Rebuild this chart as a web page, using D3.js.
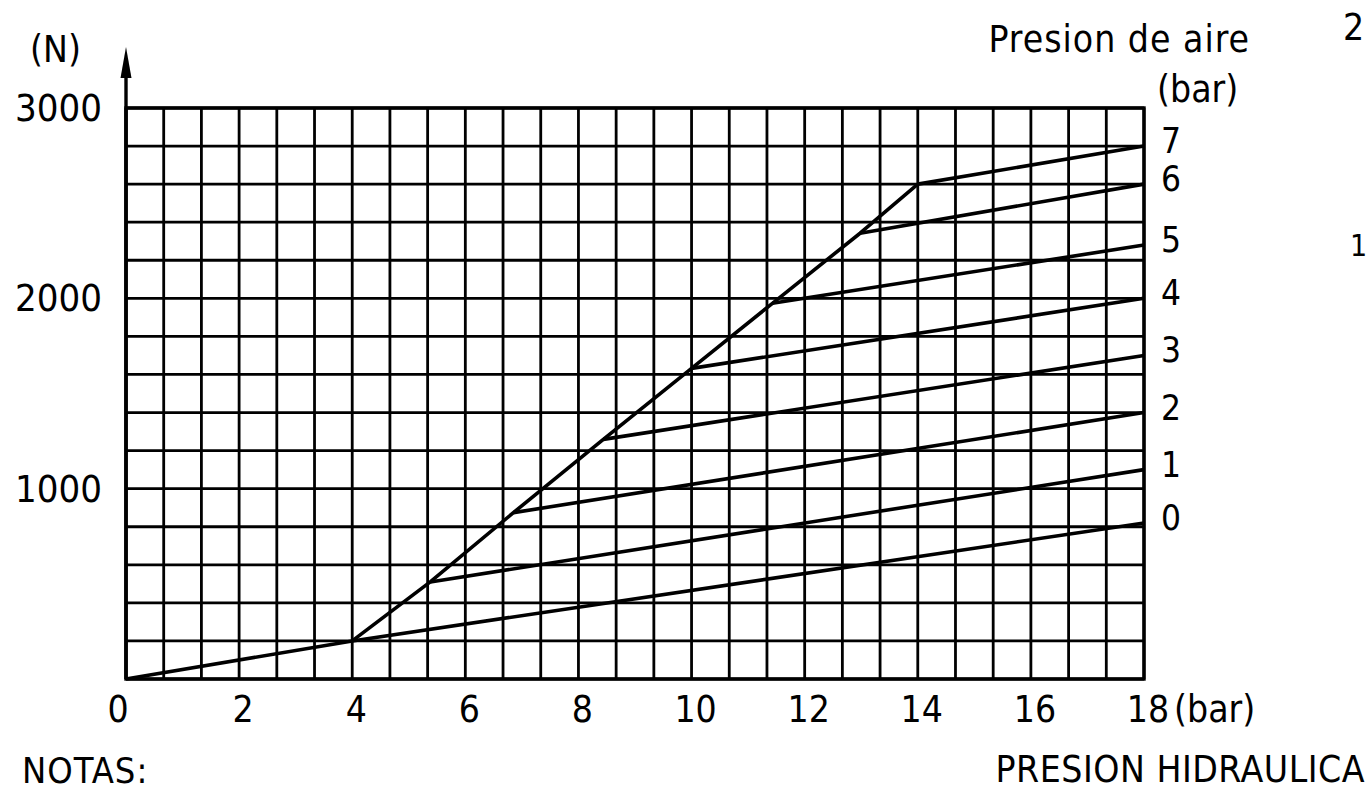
<!DOCTYPE html>
<html>
<head>
<meta charset="utf-8">
<script src="https://cdn.jsdelivr.net/npm/d3@7"></script>
<style>
  body { margin: 0; background: #fff; overflow: hidden; }
  text { font-family: "Liberation Sans Narrow", "DejaVu Sans Condensed", sans-serif; fill: #000; }
</style>
</head>
<body>
<div id="chart"></div>
<script>
const W = 1371, H = 795
const MARGIN = {LEFT:126, RIGHT:227, TOP:108, BOTTOM:116}
const WIDTH = W - MARGIN.LEFT - MARGIN.RIGHT
const HEIGHT = H - MARGIN.TOP - MARGIN.BOTTOM

// presion de aire (bar) de cada recta
const airPressure = [0, 1, 2, 3, 4, 5, 6, 7]
// punto donde cada recta sale de la linea inclinada (presion hidraulica, fuerza)
const kneeBar   = [4, 5.38, 6.85, 8.44, 10.0, 11.43, 12.98, 14.0]
const kneeForce = [200, 510, 874, 1259, 1632, 1974, 2342, 2600]
// fuerza a 18 bar
const endForce  = [820, 1100, 1400, 1700, 2000, 2280, 2600, 2800]

const xTicks = [0, 2, 4, 6, 8, 10, 12, 14, 16, 18]
const yTicks = [1000, 2000, 3000]

const svg = d3.select("#chart").append("svg")
    .attr("width", W)
    .attr("height", H)

const x = d3.scaleLinear().domain([0, 18]).range([MARGIN.LEFT, MARGIN.LEFT + WIDTH])
const y = d3.scaleLinear().domain([0, 3000]).range([MARGIN.TOP + HEIGHT, MARGIN.TOP])

// cuadricula: 27 columnas (2/3 bar) x 15 filas (200 N)
const grid = svg.append("g").attr("stroke", "#000").attr("stroke-width", 2.8)
grid.selectAll(".v").data(d3.range(0, 28)).join("line")
    .attr("x1", d => x(d * 18 / 27)).attr("x2", d => x(d * 18 / 27))
    .attr("y1", y(0)).attr("y2", y(3000))
grid.selectAll(".h").data(d3.range(0, 3001, 200)).join("line")
    .attr("x1", x(0)).attr("x2", x(18))
    .attr("y1", d => y(d)).attr("y2", d => y(d))

// borde
svg.append("rect")
    .attr("x", x(0)).attr("y", y(3000))
    .attr("width", x(18) - x(0)).attr("height", y(0) - y(3000))
    .attr("fill", "none").attr("stroke", "#000").attr("stroke-width", 3.4)

// eje y con flecha
svg.append("line")
    .attr("x1", x(0)).attr("x2", x(0))
    .attr("y1", y(0)).attr("y2", 60)
    .attr("stroke", "#000").attr("stroke-width", 3.4)
svg.append("path")
    .attr("d", `M${x(0)},47 L${x(0) - 5.5},78 L${x(0) + 5.5},78 Z`)
    .attr("fill", "#000")

const line = d3.line().x(d => x(d[0])).y(d => y(d[1]))
const curves = svg.append("g").attr("fill", "none").attr("stroke", "#000")
    .attr("stroke-width", 3.6).attr("stroke-linejoin", "round")

// tramo desde el origen
curves.append("path").attr("d", line([[0, 0], [kneeBar[0], kneeForce[0]]]))
// linea inclinada por los puntos de salida
curves.append("path").attr("d", line(kneeBar.map((b, i) => [b, kneeForce[i]])))
// una recta por presion de aire
curves.selectAll(".air").data(airPressure).join("path")
    .attr("d", (d, i) => line([[kneeBar[i], kneeForce[i]], [18, endForce[i]]]))

// etiquetas de presion de aire
svg.selectAll(".airLabel").data(airPressure).join("text")
    .attr("x", x(18) + 17)
    .attr("y", (d, i) => y(endForce[i]) - 5)
    .attr("dominant-baseline", "central")
    .attr("font-size", 35)
    .text(d => d)

// ticks eje x
svg.selectAll(".xt").data(xTicks).join("text")
    .attr("x", d => x(d) + (d === 0 ? -8 : 4))
    .attr("y", 722)
    .attr("text-anchor", "middle")
    .attr("font-size", 37)
    .text(d => d)

// ticks eje y
svg.selectAll(".yt").data(yTicks).join("text")
    .attr("x", 102)
    .attr("y", d => y(d))
    .attr("text-anchor", "end")
    .attr("dominant-baseline", "central")
    .attr("font-size", 38)
    .text(d => d)

const label = (t, px, py, anchor, size, spacing) => svg.append("text")
    .attr("x", px).attr("y", py)
    .attr("text-anchor", anchor || "start")
    .attr("font-size", size || 37)
    .attr("letter-spacing", spacing || 0)
    .text(t)

label("(N)", 30, 62)
label("(bar)", 1174, 722)
label("PRESION  HIDRAULICA", 1365, 782, "end", 37, 0.5)
label("NOTAS:", 22, 783, "start", 36, 1)
label("Presion  de  aire", 1250, 52, "end", 37, 1)
label("(bar)", 1157, 102)
label("2", 1343, 40)
label("1", 1350, 256, "start", 30)
</script>
</body>
</html>
